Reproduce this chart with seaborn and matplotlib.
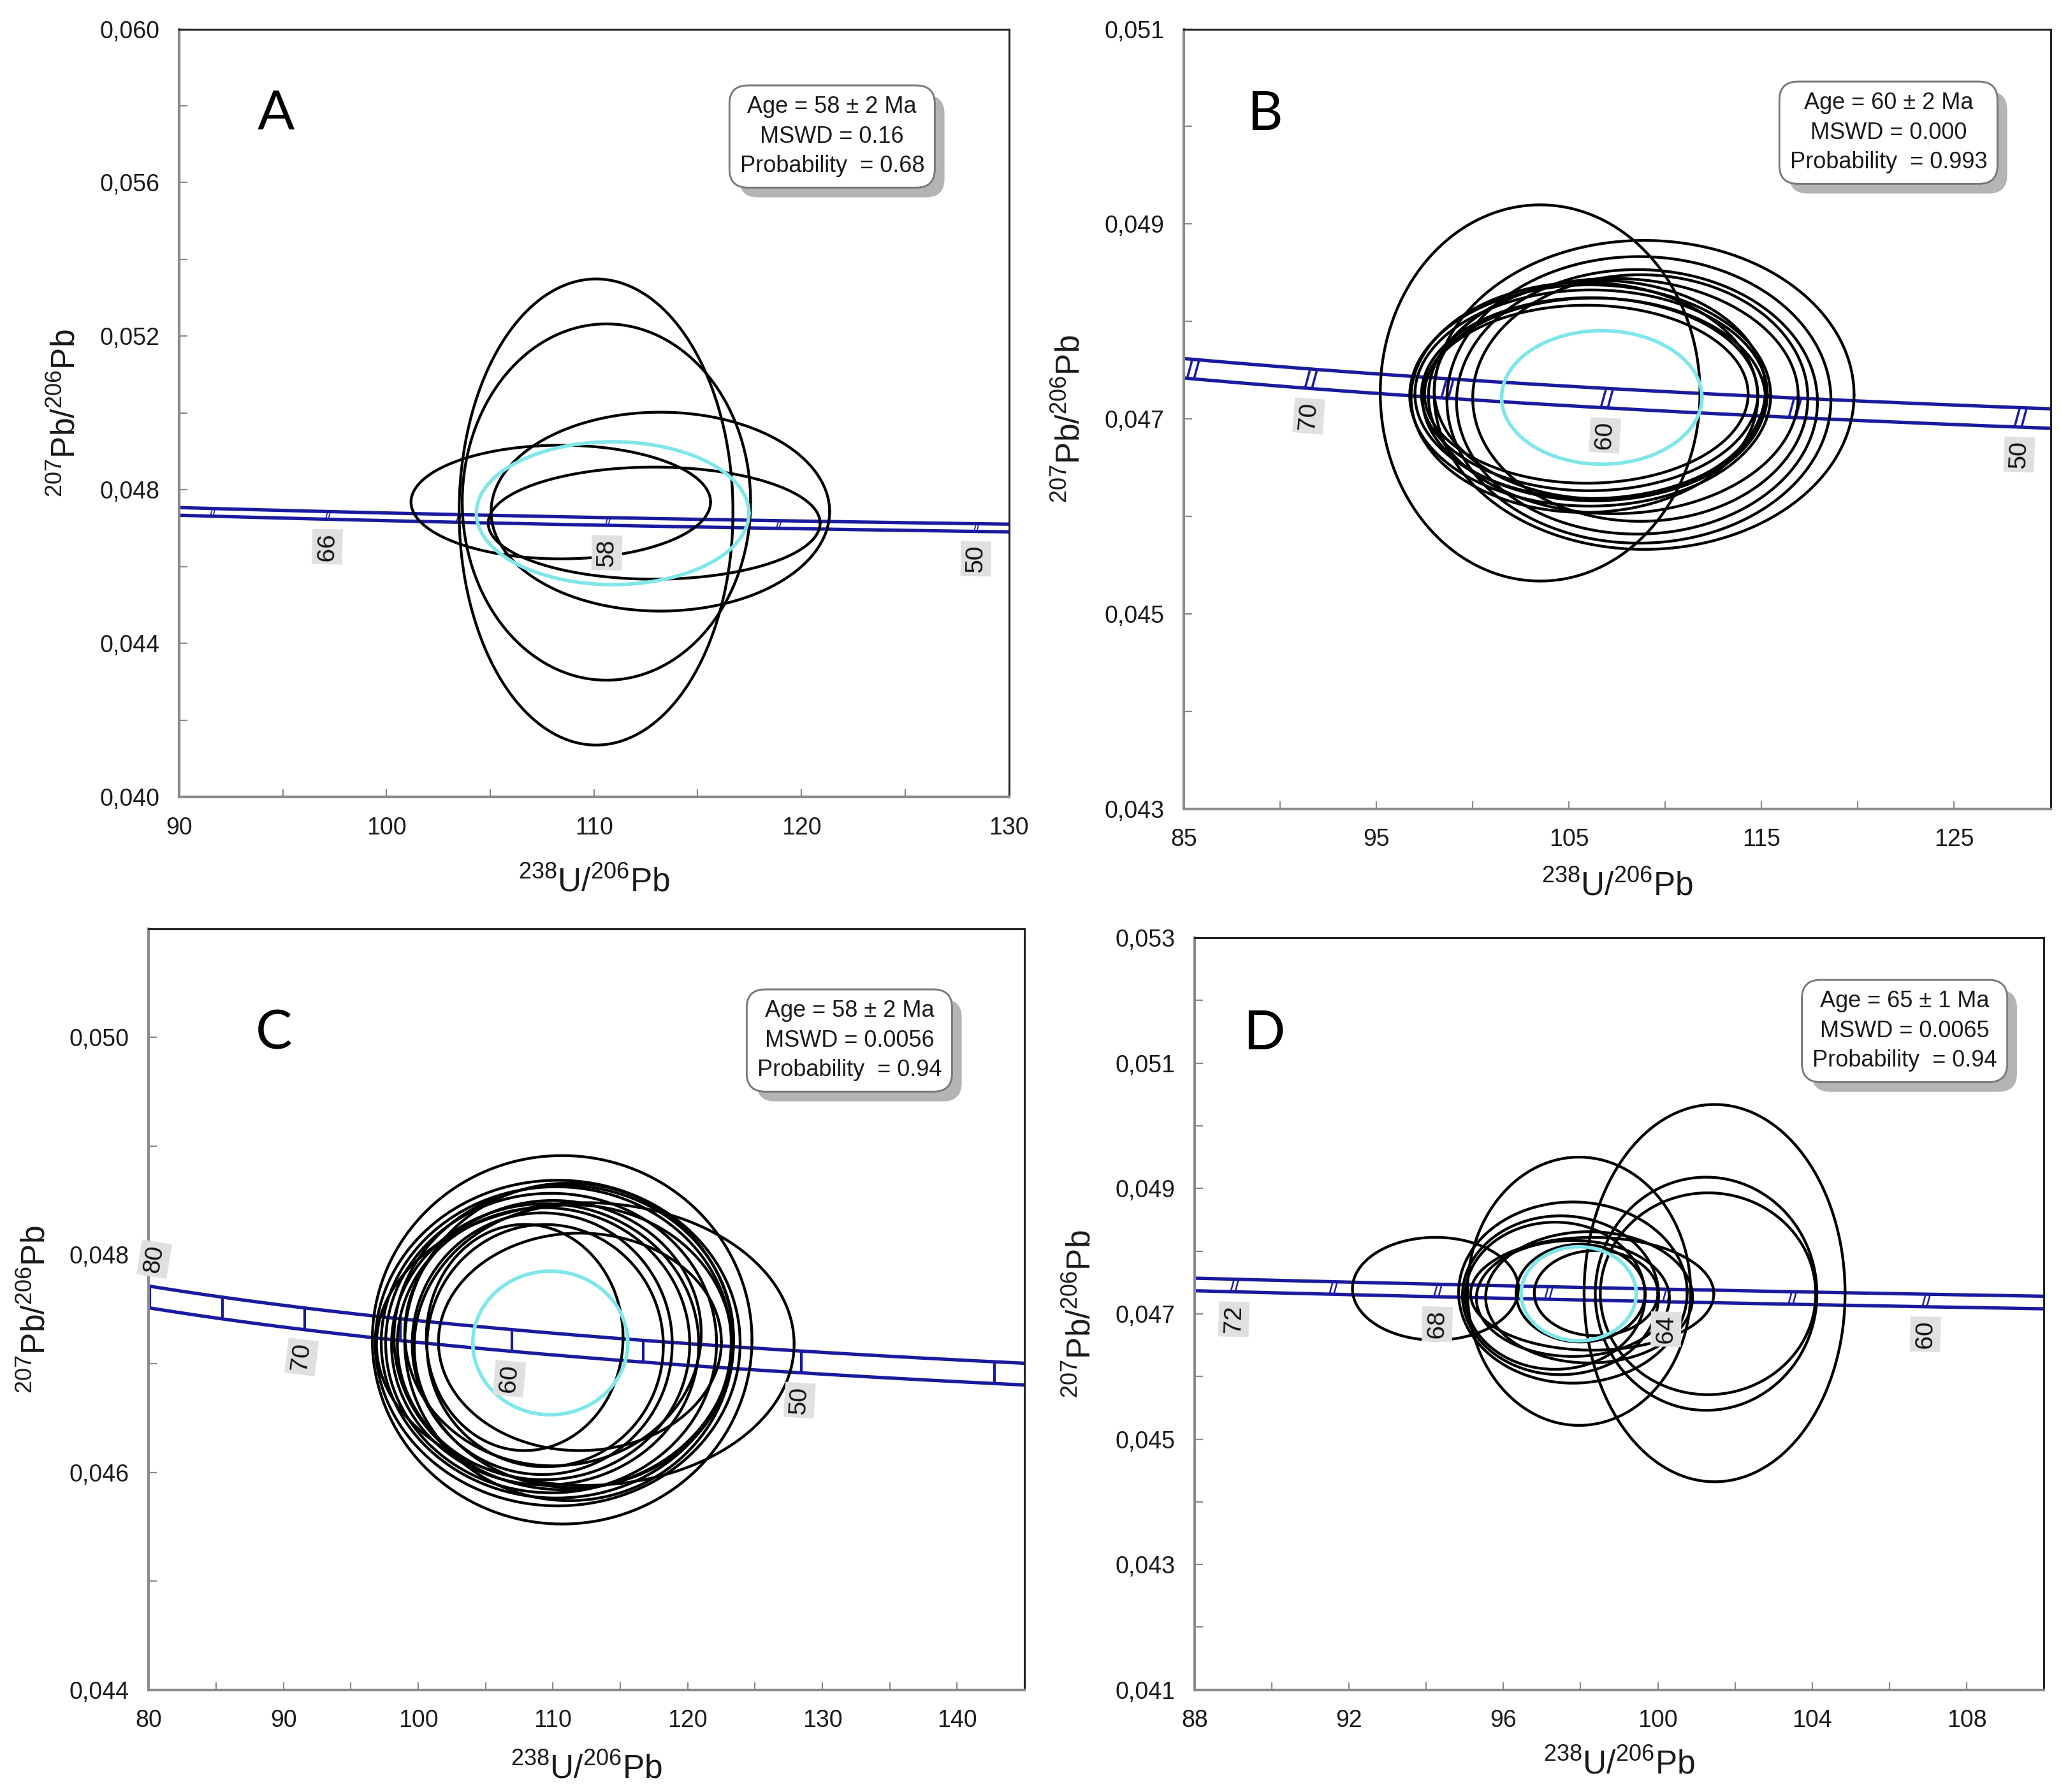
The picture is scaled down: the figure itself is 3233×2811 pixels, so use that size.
import numpy as np
import pandas as pd
import matplotlib
matplotlib.use("Agg")
import matplotlib.pyplot as plt
import seaborn as sns
from matplotlib import patheffects as pe
from matplotlib.ticker import FixedLocator, FuncFormatter

# ------------------------------------------------------------------ data
# Panel A: error ellipses (centre x, centre y, half-width x, half-height y)
A_cx = [110.1, 110.6, 108.4, 113.2, 112.9]
A_cy = [0.04742, 0.04768, 0.04768, 0.04743, 0.04713]
A_rx = [6.6, 6.95, 7.22, 8.16, 8.0]
A_ry = [0.00607, 0.00464, 0.00148, 0.00259, 0.00146]
A_mean = [110.9, 0.04739, 6.57, 0.00186]
A_ages_tick = [70, 66, 62, 58, 54, 50]
A_ages_label = [66, 58, 50]
A_xticks = [90, 100, 110, 120, 130]
A_yticks = [0.040, 0.044, 0.048, 0.052, 0.056, 0.060]
A_stats = ["Age = 58 ± 2 Ma", "MSWD = 0.16", "Probability  = 0.68"]

# Panel B
B_cx = [103.5, 108.9, 108.63, 108.53, 108.7, 107.3, 106.1, 106.15, 106.07, 105.9, 106.3, 106.6, 105.8]
B_cy = [0.047266, 0.047246, 0.047195, 0.047175, 0.047214, 0.047234, 0.04724, 0.047253, 0.047253,
        0.047253, 0.04720, 0.04730, 0.04722]
B_rx = [8.3, 10.9, 9.97, 9.37, 8.7, 9.6, 9.37, 9.15, 8.73, 8.4, 8.9, 8.6, 9.0]
B_ry = [0.00193, 0.001585, 0.00147, 0.001357, 0.001265, 0.001207, 0.001135, 0.00107, 0.00099,
        0.000913, 0.00104, 0.00112, 0.00118]
B_mean = [106.7, 0.04722, 5.2, 0.000685]
B_ages_tick = [75, 70, 65, 60, 55, 50]
B_ages_label = [70, 60, 50]
B_xticks = [85, 95, 105, 115, 125]
B_yticks = [0.043, 0.045, 0.047, 0.049, 0.051]
B_stats = ["Age = 60 ± 2 Ma", "MSWD = 0.000", "Probability  = 0.993"]

# Panel C
C_cx = [110.68, 110.35, 110.24, 109.86, 109.42, 109.3, 109.2, 109.42, 112.0, 107.9, 112.4,
        110.8, 111.5, 110.0, 111.2]
C_cy = [0.047219, 0.047189, 0.047195, 0.047189, 0.047177, 0.047183, 0.047183, 0.047165, 0.04720,
        0.04724, 0.04718, 0.04724, 0.04716, 0.04728, 0.04720]
C_rx = [14.09, 13.54, 12.99, 12.28, 11.4, 10.85, 9.65, 8.77, 10.5, 7.3, 15.5, 12.6, 11.8, 11.0, 12.2]
C_ry = [0.001694, 0.001497, 0.001431, 0.001377, 0.001293, 0.001251, 0.001203, 0.001114, 0.0010,
        0.00104, 0.0013, 0.00140, 0.00130, 0.00122, 0.00146]
C_mean = [109.8, 0.04719, 5.75, 0.00066]
C_ages_tick = [80, 75, 70, 65, 60, 55, 50, 45]
C_ages_label = [80, 70, 60, 50]
C_xticks = [80, 90, 100, 110, 120, 130, 140]
C_yticks = [0.044, 0.046, 0.048, 0.050]
C_stats = ["Age = 58 ± 2 Ma", "MSWD = 0.0056", "Probability  = 0.94"]

# Panel D
D_cx = [94.24, 101.47, 101.25, 101.3, 97.96, 97.8, 97.48, 98.3, 97.34, 98.22, 98.0, 98.4, 97.8]
D_cy = [0.04740, 0.04733, 0.04732, 0.04732, 0.04736, 0.047339, 0.047296, 0.04732, 0.047288,
        0.047263, 0.04733, 0.04733, 0.047245]
D_rx = [2.15, 3.38, 2.87, 2.79, 2.89, 2.96, 2.54, 3.15, 2.33, 2.68, 1.67, 1.6, 2.5]
D_ry = [0.00082, 0.00301, 0.00186, 0.00161, 0.00214, 0.001445, 0.001267, 0.0009, 0.001174,
        0.001047, 0.00078, 0.00068, 0.000925]
D_mean = [97.95, 0.04732, 1.49, 0.00075]
D_ages_tick = [72, 70, 68, 66, 64, 62, 60]
D_ages_label = [72, 68, 64, 60]
D_xticks = [88, 92, 96, 100, 104, 108]
D_yticks = [0.041, 0.043, 0.045, 0.047, 0.049, 0.051, 0.053]
D_stats = ["Age = 65 ± 1 Ma", "MSWD = 0.0065", "Probability  = 0.94"]

# decay constants (Tera-Wasserburg concordia)
L238 = 1.55125e-10
L235 = 9.8485e-10
U_RATIO = 137.88
BAND = 0.0001

# ------------------------------------------------------------------ style
sns.set_theme(style="white")
plt.rcParams["font.family"] = ["Liberation Sans", "DejaVu Sans"]
plt.rcParams["mathtext.fontset"] = "custom"
plt.rcParams["mathtext.rm"] = "Liberation Sans"
plt.rcParams["mathtext.it"] = "Liberation Sans:italic"
plt.rcParams["mathtext.default"] = "regular"

NAVY = "#1a1aa0"
CYAN = "#7fe6ea"
GRAY = "#8a8a8a"


def tw(age_ma):
    t = np.asarray(age_ma, dtype=float) * 1e6
    e8 = np.expm1(L238 * t)
    e5 = np.expm1(L235 * t)
    return 1.0 / e8, e5 / e8 / U_RATIO


def ellipse_frame(cx, cy, rx, ry):
    th = np.linspace(0, 2 * np.pi, 361)
    rows = []
    for i, (a, b, c, d) in enumerate(zip(cx, cy, rx, ry)):
        rows.append(pd.DataFrame({"id": i, "x": a + c * np.cos(th), "y": b + d * np.sin(th)}))
    return pd.concat(rows, ignore_index=True)


panels = [
    dict(name="A", rect=[0.0869, 0.5553, 0.4026, 0.4285], xlim=(90, 130), ylim=(0.040, 0.060),
         cx=A_cx, cy=A_cy, rx=A_rx, ry=A_ry, mean=A_mean, ticks=A_ages_tick, labels=A_ages_label,
         xt=A_xticks, yt=A_yticks, stats=A_stats, box=(0.787, 0.860), letter=(0.117, 0.889),
         mark="slash", above=[], xpad=31),
    dict(name="B", rect=[0.5744, 0.5487, 0.4205, 0.4351], xlim=(85, 130), ylim=(0.043, 0.051),
         cx=B_cx, cy=B_cy, rx=B_rx, ry=B_ry, mean=B_mean, ticks=B_ages_tick, labels=B_ages_label,
         xt=B_xticks, yt=B_yticks, stats=B_stats, box=(0.813, 0.867), letter=(0.093, 0.890),
         mark="slash", above=[], xpad=22),
    dict(name="C", rect=[0.0722, 0.0570, 0.4249, 0.4248], xlim=(80, 145), ylim=(0.044, 0.051),
         cx=C_cx, cy=C_cy, rx=C_rx, ry=C_ry, mean=C_mean, ticks=C_ages_tick, labels=C_ages_label,
         xt=C_xticks, yt=C_yticks, stats=C_stats, box=(0.800, 0.853), letter=(0.143, 0.862),
         mark="bar", above=[80], xpad=24),
    dict(name="D", rect=[0.5796, 0.0570, 0.4121, 0.4197], xlim=(88, 110), ylim=(0.041, 0.053),
         cx=D_cx, cy=D_cy, rx=D_rx, ry=D_ry, mean=D_mean, ticks=D_ages_tick, labels=D_ages_label,
         xt=D_xticks, yt=D_yticks, stats=D_stats, box=(0.836, 0.876), letter=(0.082, 0.872),
         mark="slash", above=[], xpad=19),
]

fig = plt.figure(figsize=(32.33, 28.11), dpi=100)
fig.patch.set_facecolor("white")
PT = fig.dpi / 72.0

for p in panels:
    ax = fig.add_axes(p["rect"])
    ax.set_facecolor("white")
    ax.set_xlim(*p["xlim"])
    ax.set_ylim(*p["ylim"])

    # concordia band
    xmin, xmax = p["xlim"]
    t_lo = np.log1p(1.0 / (xmax * 1.03)) / L238 / 1e6
    t_hi = np.log1p(1.0 / (xmin * 0.97)) / L238 / 1e6
    ages = np.linspace(t_lo, t_hi, 500)
    xc, yc = tw(ages)
    sns.lineplot(x=xc, y=yc + BAND, sort=False, estimator=None, color=NAVY, lw=3.8, ax=ax)
    sns.lineplot(x=xc, y=yc - BAND, sort=False, estimator=None, color=NAVY, lw=3.8, ax=ax)

    def disp(x, y):
        return ax.transData.transform(np.column_stack([np.atleast_1d(x), np.atleast_1d(y)]))

    # age marks on concordia
    tx, ty = tw(p["ticks"])
    if p["mark"] == "bar":
        for a, b in zip(tx, ty):
            ax.plot([a, a], [b - BAND, b + BAND], color=NAVY, lw=3.0)
    else:
        band_px = abs(disp(tx[0], ty[0] + BAND)[0, 1] - disp(tx[0], ty[0] - BAND)[0, 1])
        ax.plot(tx, ty, ls="none", marker=r"$//$", ms=band_px / PT * 0.95, color=NAVY, mew=0.4)

    # age labels
    lx, ly = tw(p["labels"])
    for age, a, b in zip(p["labels"], lx, ly):
        x1, y1 = tw([age + 0.5])
        x0, y0 = tw([age - 0.5])
        d = disp([x0[0], x1[0]], [y0[0], y1[0]])
        ang = np.degrees(np.arctan2(d[0, 1] - d[1, 1], d[0, 0] - d[1, 0]))
        if abs(ang) > 90:
            ang -= 180 * np.sign(ang)
        r = np.radians(ang)
        dist = 31
        if age in p["above"]:
            off = (-np.sin(r) * dist, np.cos(r) * dist)
            anchor = b + BAND
        else:
            off = (np.sin(r) * dist, -np.cos(r) * dist)
            anchor = b - BAND
        ax.annotate(str(age), xy=(a, anchor), xycoords="data", xytext=off,
                    textcoords="offset points", ha="center", va="center",
                    rotation=ang + 90, fontsize=28, color="#111111",
                    bbox=dict(boxstyle="square,pad=0.15", fc="#e0e0e0", ec="none"),
                    annotation_clip=False)

    # error ellipses
    df = ellipse_frame(p["cx"], p["cy"], p["rx"], p["ry"])
    sns.lineplot(data=df, x="x", y="y", units="id", estimator=None, sort=False,
                 color="black", lw=3.1, ax=ax, legend=False)
    m = ellipse_frame([p["mean"][0]], [p["mean"][1]], [p["mean"][2]], [p["mean"][3]])
    sns.lineplot(data=m, x="x", y="y", units="id", estimator=None, sort=False,
                 color=CYAN, lw=4.0, ax=ax, legend=False)

    # axes styling
    xt = p["xt"]
    yt = p["yt"]
    ax.xaxis.set_major_locator(FixedLocator(xt))
    ax.yaxis.set_major_locator(FixedLocator(yt))
    dx = (xt[1] - xt[0]) / 2.0
    dy = (yt[1] - yt[0]) / 2.0
    ax.xaxis.set_minor_locator(FixedLocator(np.arange(xt[0] - dx, xmax + dx * 0.1, dx)))
    ax.yaxis.set_minor_locator(FixedLocator(np.arange(yt[0] - dy, p["ylim"][1] + dy * 0.1, dy)))
    ax.xaxis.set_major_formatter(FuncFormatter(lambda v, pos: f"{v:.0f}"))
    ax.yaxis.set_major_formatter(FuncFormatter(lambda v, pos: f"{v:.3f}".replace(".", ",")))
    ax.tick_params(which="both", direction="in", length=9, width=1.6, color=GRAY,
                   bottom=True, left=True, top=False, right=False)
    ax.tick_params(axis="x", which="major", labelsize=27, pad=22, labelcolor="#1a1a1a")
    ax.tick_params(axis="y", which="major", labelsize=27, pad=22, labelcolor="#1a1a1a")
    for s in ("left", "bottom"):
        ax.spines[s].set_color(GRAY)
        ax.spines[s].set_linewidth(3.0)
    for s in ("top", "right"):
        ax.spines[s].set_color("#222222")
        ax.spines[s].set_linewidth(2.2)
    ax.set_xlabel(r"$^{238}$U/$^{206}$Pb", fontsize=37, labelpad=p["xpad"], color="#1a1a1a")
    ax.set_ylabel(r"$^{207}$Pb/$^{206}$Pb", fontsize=37, labelpad=20, color="#1a1a1a")
    ax.grid(False)

    # panel letter
    ax.text(p["letter"][0], p["letter"][1], p["name"], transform=ax.transAxes,
            fontsize=62, family=["Lato", "DejaVu Sans"], ha="center", va="center", color="black")

    # statistics box with drop shadow
    txt = "\n".join(p["stats"])
    t = ax.text(p["box"][0], p["box"][1], txt, transform=ax.transAxes, fontsize=26,
                color="#1a1a1a", ha="center", va="center", multialignment="center",
                linespacing=1.42,
                bbox=dict(boxstyle="round,pad=0.45,rounding_size=0.8", fc="white",
                          ec="#7a7a7a", lw=2))
    t.get_bbox_patch().set_path_effects([
        pe.withSimplePatchShadow(offset=(11, -11), shadow_rgbFace="#b4b4b4", alpha=1.0),
        pe.Normal(),
    ])

fig.savefig("out.png", dpi=100, facecolor="white")
